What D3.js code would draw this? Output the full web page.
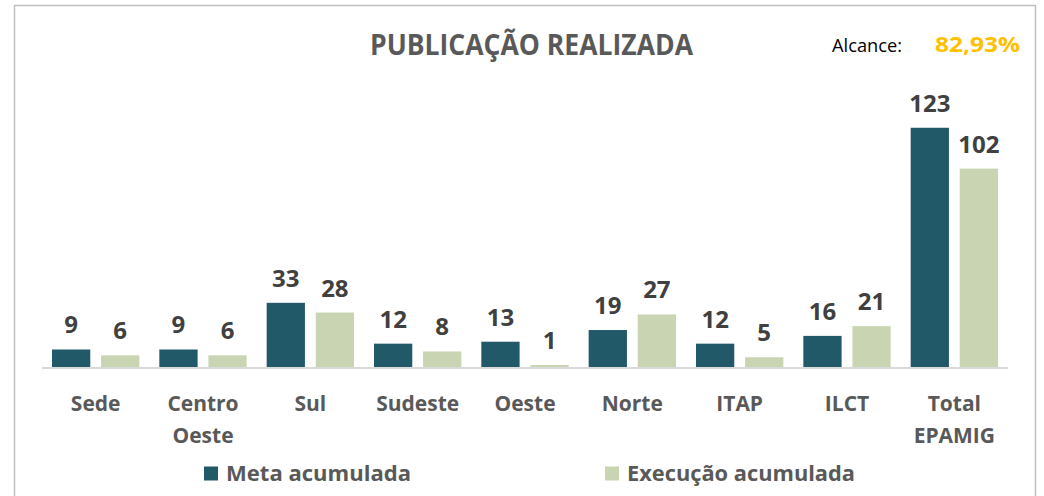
<!DOCTYPE html>
<html>
<head>
<meta charset="utf-8">
<script src="https://cdn.jsdelivr.net/npm/d3@7"></script>
<style>
  body { margin: 0; background: #fff; }
  svg { display: block; font-family: "Open Sans", "DejaVu Sans", sans-serif; }
</style>
</head>
<body>
<svg id="chart" width="1044" height="496"></svg>
<script>
const categories = [["Sede"], ["Centro", "Oeste"], ["Sul"], ["Sudeste"], ["Oeste"], ["Norte"], ["ITAP"], ["ILCT"], ["Total", "EPAMIG"]];
const seriesNames = ["Meta acumulada", "Execução acumulada"];
const meta = [9, 9, 33, 12, 13, 19, 12, 16, 123];
const execucao = [6, 6, 28, 8, 1, 27, 5, 21, 102];
const colors = ["#215968", "#c9d5b2"];
const alcance = "82,93%";

const svg = d3.select("#chart");
const keys = categories.map(c => c.join(" "));

// frame
svg.append("rect")
    .attr("x", 14.5).attr("y", 5.5)
    .attr("width", 1021).attr("height", 520)
    .attr("fill", "#fff")
    .attr("stroke", "#bfbfbf")
    .attr("stroke-width", 1.5);

const x0 = d3.scaleBand().domain(keys).range([42, 1008]).paddingInner(0).paddingOuter(0);
const x1 = d3.scaleBand().domain(seriesNames).range([10, x0.bandwidth() - 10]).paddingInner(0.22);
const y = d3.scaleLinear().domain([0, 140]).range([367, 367 - 140 * 1.945]);

const rows = keys.map((k, i) => ({ key: k, values: [meta[i], execucao[i]] }));

const groups = svg.append("g").selectAll("g")
    .data(rows)
    .join("g")
    .attr("transform", d => `translate(${x0(d.key)},0)`);

groups.selectAll("rect")
    .data(d => d.values.map((v, j) => ({ name: seriesNames[j], v, j })))
    .join("rect")
    .attr("x", d => x1(d.name))
    .attr("y", d => y(d.v))
    .attr("width", x1.bandwidth())
    .attr("height", d => y(0) - y(d.v))
    .attr("fill", d => colors[d.j]);

groups.selectAll("text.val")
    .data(d => d.values.map((v, j) => ({ name: seriesNames[j], v, j })))
    .join("text")
    .attr("class", "val")
    .attr("x", d => x1(d.name) + x1.bandwidth() / 2)
    .attr("y", d => y(d.v) - 16)
    .attr("text-anchor", "middle")
    .attr("font-size", 24)
    .attr("font-weight", "bold")
    .attr("fill", "#404040")
    .text(d => d.v);

// baseline
svg.append("line")
    .attr("x1", 42).attr("x2", 1008)
    .attr("y1", y(0) + 1).attr("y2", y(0) + 1)
    .attr("stroke", "#d9d9d9")
    .attr("stroke-width", 2);

// category labels
const catLabels = svg.append("g").selectAll("text")
    .data(categories)
    .join("text")
    .attr("x", (d, i) => x0(keys[i]) + x0.bandwidth() / 2)
    .attr("y", 411)
    .attr("text-anchor", "middle")
    .attr("font-size", 21)
    .attr("font-weight", "bold")
    .attr("fill", "#595959");

catLabels.selectAll("tspan")
    .data(d => d)
    .join("tspan")
    .attr("x", function() { return this.parentNode.getAttribute("x"); })
    .attr("dy", (d, i) => i === 0 ? 0 : 32)
    .text(d => d);

// title
svg.append("text")
    .attr("x", 370).attr("y", 55)
    .attr("font-size", 28)
    .attr("font-weight", "bold")
    .attr("fill", "#595959")
    .attr("textLength", 323)
    .attr("lengthAdjust", "spacingAndGlyphs")
    .text("PUBLICAÇÃO REALIZADA");

svg.append("text")
    .attr("x", 832).attr("y", 52)
    .attr("font-size", 19)
    .attr("fill", "#000")
    .attr("textLength", 70)
    .attr("lengthAdjust", "spacingAndGlyphs")
    .text("Alcance:");

svg.append("text")
    .attr("x", 935).attr("y", 52)
    .attr("font-size", 21)
    .attr("font-weight", "bold")
    .attr("fill", "#ffc000")
    .attr("textLength", 85)
    .attr("lengthAdjust", "spacingAndGlyphs")
    .text(alcance);

// legend
const legendX = [204, 605];
const legendW = [185, 228];
const legend = svg.append("g").selectAll("g")
    .data(seriesNames)
    .join("g")
    .attr("transform", (d, i) => `translate(${legendX[i]},0)`);

legend.append("rect")
    .attr("x", 0).attr("y", 466.5)
    .attr("width", 14).attr("height", 14)
    .attr("fill", (d, i) => colors[i]);

legend.append("text")
    .attr("x", 22).attr("y", 481)
    .attr("font-size", 22)
    .attr("font-weight", "bold")
    .attr("fill", "#595959")
    .attr("textLength", (d, i) => legendW[i])
    .attr("lengthAdjust", "spacingAndGlyphs")
    .text(d => d);
</script>
</body>
</html>
